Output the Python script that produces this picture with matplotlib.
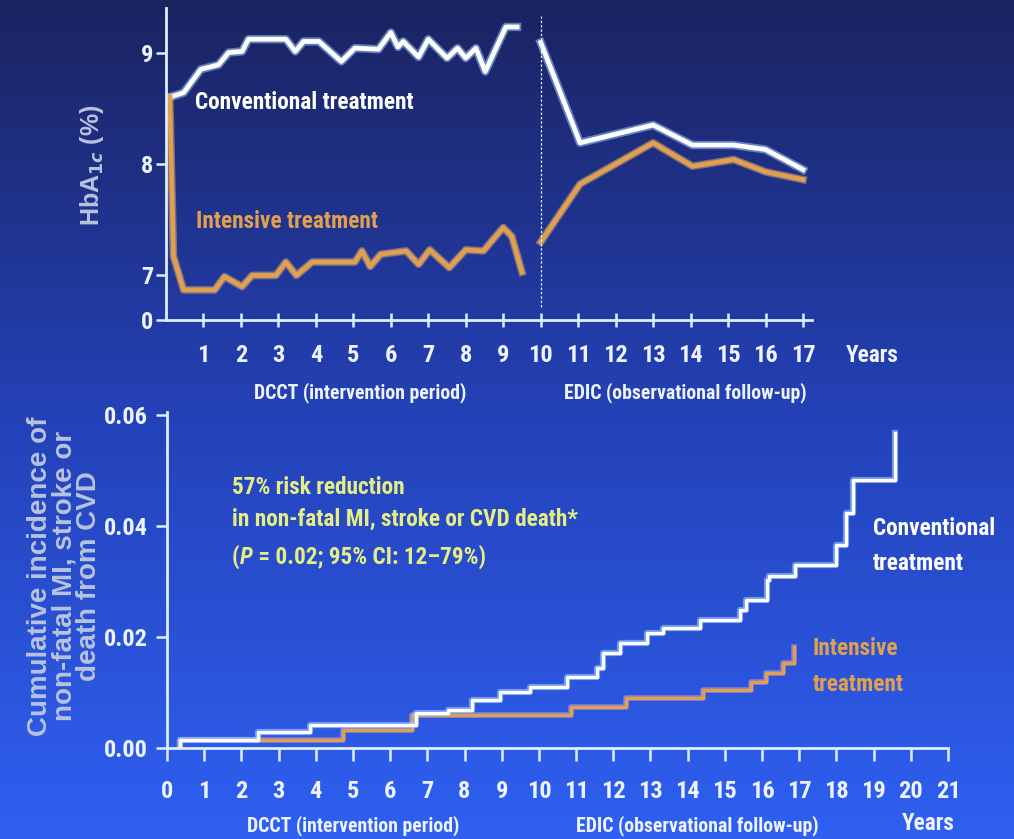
import numpy as np
import matplotlib
matplotlib.use("Agg")
import matplotlib.pyplot as plt
from matplotlib import font_manager
from matplotlib.colors import LinearSegmentedColormap

# pick a condensed face if one is installed
installed = {f.name for f in font_manager.fontManager.ttflist}
narrow = "DejaVu Sans"
for cand in ["Liberation Sans Narrow", "Arial Narrow", "Roboto Condensed",
             "DejaVu Sans Condensed", "Roboto", "Liberation Sans"]:
    if cand in installed:
        narrow = cand
        break
shrink = {"Liberation Sans Narrow": 1.0, "Arial Narrow": 1.0, "Roboto Condensed": 0.95,
          "DejaVu Sans Condensed": 0.82, "Roboto": 0.86, "Liberation Sans": 0.84}.get(narrow, 0.74)
wide = "Liberation Sans" if "Liberation Sans" in installed else "DejaVu Sans"

plt.rcParams["font.family"] = [narrow, "DejaVu Sans"]
plt.rcParams["font.weight"] = "bold"

# ---- HbA1c panel (years, %) ----
conv_dcct_x = [0.1, 0.47, 0.93, 1.4, 1.67, 2.03, 2.2, 3.2, 3.45, 3.67, 4.08, 4.68, 5.04,
               5.67, 6.0, 6.19, 6.33, 6.74, 7.0, 7.5, 7.78, 8.0, 8.27, 8.52, 9.07, 9.37]
conv_dcct_y = [8.6, 8.64, 8.85, 8.89, 9.0, 9.01, 9.12, 9.12, 9.01, 9.1, 9.1, 8.92, 9.04,
               9.03, 9.18, 9.05, 9.1, 8.96, 9.12, 8.95, 9.04, 8.95, 9.04, 8.83, 9.23, 9.23]
int_dcct_x = [0.1, 0.2, 0.47, 1.3, 1.56, 2.03, 2.3, 2.93, 3.2, 3.48, 3.9, 5.04, 5.23, 5.45,
              5.73, 6.41, 6.74, 7.04, 7.56, 8.0, 8.47, 9.0, 9.23, 9.5]
int_dcct_y = [8.6, 7.17, 6.87, 6.87, 6.99, 6.9, 7.0, 7.0, 7.12, 7.0, 7.12, 7.12, 7.22, 7.08,
              7.19, 7.22, 7.1, 7.23, 7.07, 7.23, 7.22, 7.43, 7.35, 7.03]
edic_x = [10.0, 11.05, 13.0, 14.05, 15.15, 16.0, 17.0]
conv_edic_y = [9.09, 8.19, 8.35, 8.17, 8.17, 8.13, 7.95]
int_edic_y = [7.30, 7.82, 8.19, 7.98, 8.04, 7.93, 7.86]

# ---- cumulative incidence panel (step curves) ----
conv_t = [0.35, 0.35, 2.45, 3.85, 6.7, 7.55, 8.2, 8.95, 9.76, 10.75, 11.55, 11.73, 12.18,
          12.9, 13.34, 14.33, 15.4, 15.58, 16.12, 16.2, 16.88, 18.0, 18.27, 18.45, 19.57]
conv_inc = [0.0, 0.0014, 0.0029, 0.0041, 0.0063, 0.0068, 0.0086, 0.0101, 0.011, 0.0128,
            0.0144, 0.0171, 0.0189, 0.0207, 0.0216, 0.0231, 0.0249, 0.0267, 0.0303, 0.0309,
            0.033, 0.0366, 0.0423, 0.0483, 0.0567]
int_t = [0.35, 0.35, 4.73, 6.6, 10.85, 12.35, 14.4, 15.7, 16.1, 16.55, 16.85]
int_inc = [0.0, 0.0015, 0.0032, 0.0059, 0.0074, 0.009, 0.0104, 0.0119, 0.0135, 0.0153, 0.0182]

top_xticks = list(range(1, 18))
bot_xticks = list(range(0, 22))
top_yticks = [6.6, 7, 8, 9]
top_yticklabels = ["0", "7", "8", "9"]
bot_yticks = [0.0, 0.02, 0.04, 0.06]
bot_ylabel_lines = ["Cumulative incidence of", "non-fatal MI, stroke or", "death from CVD"]

white = "#ffffff"
glow = "#9cc8ff"
orange = "#e0a050"
axis_col = "#dcefff"
tick_txt = "#eef4ff"
label_grey = "#b8c2e0"
note_col = "#e4ee84"

fs_big = 17.6 * shrink
fs_tick = 18.5 * shrink
fs_sub = 15 * shrink

W, H = 1014, 839
fig = plt.figure(figsize=(W / 100, H / 100), dpi=100)

bg = fig.add_axes([0, 0, 1, 1], zorder=-10)
cmap = LinearSegmentedColormap.from_list("bg", ["#1b2360", "#2442b8", "#2f60f2"])
bg.imshow(np.linspace(0, 1, 256).reshape(-1, 1), aspect="auto", cmap=cmap,
          extent=[0, 1, 0, 1])
bg.set_axis_off()


def px_rect(x0, y0, x1, y1):
    return [x0 / W, 1 - y1 / H, (x1 - x0) / W, (y1 - y0) / H]


def style_axes(ax):
    ax.patch.set_alpha(0)
    for s in ["top", "right"]:
        ax.spines[s].set_visible(False)
    for s in ["left", "bottom"]:
        ax.spines[s].set_color(axis_col)
        ax.spines[s].set_linewidth(2)
    ax.tick_params(colors=axis_col, labelcolor=tick_txt, width=1.8, labelsize=fs_tick)


# top panel
ax1 = fig.add_axes(px_rect(166, 8, 812, 320))
style_axes(ax1)
ax1.set_xlim(0, 17.24)
ax1.set_ylim(6.6, 9.4)
ax1.set_xticks(top_xticks)
ax1.set_yticks(top_yticks)
ax1.set_yticklabels(top_yticklabels)
ax1.tick_params(axis="x", direction="inout", length=10, pad=12)
ax1.tick_params(axis="y", direction="out", length=7, pad=2)

for xs, ys in [(conv_dcct_x, conv_dcct_y), (edic_x, conv_edic_y)]:
    ax1.plot(xs, ys, color=glow, lw=6, alpha=0.55)
    ax1.plot(xs, ys, color=white, lw=3.4)
for xs, ys in [(int_dcct_x, int_dcct_y), (edic_x, int_edic_y)]:
    ax1.plot(xs, ys, color="#f4c070", lw=5.5, alpha=0.45)
    ax1.plot(xs, ys, color=orange, lw=3.4)

ax1.plot([10, 10], [6.72, 9.33], color="#dce8ff", lw=0.9, ls=(0, (2, 1.5)))
ax1.text(0.77, 8.55, "Conventional treatment", color=white, fontsize=fs_big, va="center")
ax1.text(0.8, 7.48, "Intensive treatment", color=orange, fontsize=fs_big, va="center")

fig.text(92 / W, 1 - 165 / H, "HbA$_{1c}$ (%)", rotation=90, color=label_grey,
         fontsize=18, ha="center", va="center", family=wide, weight="bold")
fig.text(872 / W, 1 - 355 / H, "Years", color=tick_txt, fontsize=fs_big, ha="center", va="center")
fig.text(360 / W, 1 - 393 / H, "DCCT (intervention period)", color=tick_txt, fontsize=fs_sub,
         ha="center", va="center")
fig.text(685 / W, 1 - 393 / H, "EDIC (observational follow-up)", color=tick_txt, fontsize=fs_sub,
         ha="center", va="center")

# bottom panel
ax2 = fig.add_axes(px_rect(167, 412, 948, 748))
style_axes(ax2)
ax2.set_xlim(0, 21)
ax2.set_ylim(0, 0.0605)
ax2.set_xticks(bot_xticks)
ax2.set_yticks(bot_yticks)
ax2.set_yticklabels([f"{v:.2f}" for v in bot_yticks])
ax2.tick_params(axis="x", direction="out", length=9, pad=14)
ax2.tick_params(axis="y", direction="out", length=8, pad=6)

ax2.step(int_t, int_inc, where="post", color="#c8a0c8", lw=4, alpha=0.6)
ax2.step(int_t, int_inc, where="post", color=orange, lw=2.4)
ax2.step(conv_t, conv_inc, where="post", color=glow, lw=4.5, alpha=0.6)
ax2.step(conv_t, conv_inc, where="post", color=white, lw=2.4)

ax2.text(1.75, 0.0469, "57% risk reduction", color=note_col, fontsize=fs_big, va="center")
ax2.text(1.75, 0.0411, "in non-fatal MI, stroke or CVD death*", color=note_col,
         fontsize=fs_big, va="center")
t1 = ax2.text(1.75, 0.0344, "(", color=note_col, fontsize=fs_big, va="center")
t2 = ax2.annotate("P", xy=(1, 0), xycoords=t1, va="bottom", color=note_col,
                  fontsize=fs_big, style="italic")
ax2.annotate(" = 0.02; 95% CI: 12\u201379%)", xy=(1, 0), xycoords=t2, va="bottom",
             color=note_col, fontsize=fs_big)
ax2.text(18.98, 0.0396, "Conventional", color=white, fontsize=fs_big, va="center")
ax2.text(18.98, 0.0333, "treatment", color=white, fontsize=fs_big, va="center")
ax2.text(17.37, 0.018, "Intensive", color=orange, fontsize=fs_big, va="center")
ax2.text(17.37, 0.0114, "treatment", color=orange, fontsize=fs_big, va="center")

for xpx, line in zip([40, 65, 89], bot_ylabel_lines):
    fig.text(xpx / W, 1 - 576 / H, line, rotation=90, color=label_grey, fontsize=20,
             ha="center", va="center", family=wide, weight="bold")
fig.text(928 / W, 1 - 824 / H, "Years", color=tick_txt, fontsize=fs_big, ha="center", va="center")
fig.text(353 / W, 1 - 826 / H, "DCCT (intervention period)", color=tick_txt, fontsize=fs_sub,
         ha="center", va="center")
fig.text(697 / W, 1 - 826 / H, "EDIC (observational follow-up)", color=tick_txt, fontsize=fs_sub,
         ha="center", va="center")

fig.savefig("out.png", dpi=100)
